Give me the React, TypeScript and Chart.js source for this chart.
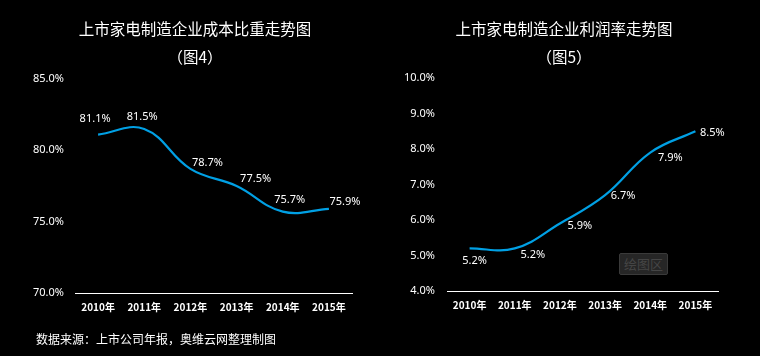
import React, { useEffect, useRef } from "react";
import { Chart, registerables } from "chart.js";

Chart.register(...registerables);

// ---- data ----
const years = ["2010年", "2011年", "2012年", "2013年", "2014年", "2015年"];
const costShare = [81.1, 81.5, 78.7, 77.5, 75.7, 75.9];
const profitRate = [5.2, 5.2, 5.9, 6.7, 7.9, 8.5];
const costAxisRange = [70, 85, 5];
const profitAxisRange = [4, 10, 1];

const leftTitle = "上市家电制造企业成本比重走势图";
const leftSub = "（图4）";
const rightTitle = "上市家电制造企业利润率走势图";
const rightSub = "（图5）";
const sourceNote = "数据来源：上市公司年报，奥维云网整理制图";
const hoverTip = "绘图区";

// ---- label placement (style) ----
const leftLabelOffsets = [[-3, -16], [-2, -12], [17, -6], [19, -7], [7, -12], [16, -7]];
const rightLabelOffsets = [[5, 12], [18, 6], [20, 2], [18, 1], [20, 5], [17, 2]];

const LINE_COLOR = "#00a0e4";
const FONT_UI = "'Noto Sans', 'Noto Sans CJK SC', sans-serif";

const pointLabelPlugin = {
  id: "pointLabels",
  afterDatasetsDraw(chart: any, _args: any, opts: any) {
    const ctx = chart.ctx;
    const meta = chart.getDatasetMeta(0);
    const data = chart.data.datasets[0].data as number[];
    ctx.save();
    ctx.font = `11px ${FONT_UI}`;
    ctx.fillStyle = "#ffffff";
    ctx.textAlign = "center";
    ctx.textBaseline = "middle";
    meta.data.forEach((pt: any, i: number) => {
      const off = (opts.offsets && opts.offsets[i]) || [0, -12];
      ctx.fillText(data[i].toFixed(1) + "%", pt.x + off[0], pt.y + off[1]);
    });
    ctx.restore();
  },
};

function makeConfig(
  values: number[],
  range: number[],
  lay: { padTop: number; padRight: number; yWidth: number; xHeight: number; tickPad: number },
  offsets: number[][]
): any {
  return {
    type: "line",
    data: {
      labels: years,
      datasets: [
        {
          data: values,
          borderColor: LINE_COLOR,
          borderWidth: 2.2,
          pointRadius: 0,
          tension: 0.4,
          fill: false,
        },
      ],
    },
    options: {
      responsive: false,
      animation: false,
      layout: { padding: { top: lay.padTop, right: lay.padRight, left: 0, bottom: 0 } },
      plugins: {
        legend: { display: false },
        title: { display: false },
        tooltip: { enabled: false },
        pointLabels: { offsets },
      },
      scales: {
        x: {
          offset: true,
          grid: { display: false, drawTicks: false, offset: true },
          border: { display: true, color: "#ffffff", width: 1 },
          ticks: {
            color: "#ffffff",
            font: { family: "'Noto Sans CJK SC', sans-serif", size: 10, weight: "bold" },
            padding: 8,
            maxRotation: 0,
            autoSkip: false,
          },
          afterFit(scale: any) {
            scale.height = lay.xHeight;
          },
        },
        y: {
          min: range[0],
          max: range[1],
          grid: { display: false, drawTicks: false },
          border: { display: false },
          ticks: {
            stepSize: range[2],
            color: "#ffffff",
            font: { family: FONT_UI, size: 11 },
            padding: lay.tickPad,
            callback: (v: any) => Number(v).toFixed(1) + "%",
          },
          afterFit(scale: any) {
            scale.width = lay.yWidth;
          },
        },
      },
    },
    plugins: [pointLabelPlugin],
  };
}

function ChartCanvas(props: { config: any; left: number }) {
  const ref = useRef<HTMLCanvasElement | null>(null);
  useEffect(() => {
    if (!ref.current) return;
    const chart = new Chart(ref.current, props.config);
    return () => chart.destroy();
  }, []);
  return (
    <canvas
      ref={ref}
      width={380}
      height={356}
      style={{ position: "absolute", left: props.left, top: 0, width: 380, height: 356 }}
    />
  );
}

export default function App() {
  const leftCfg = makeConfig(
    costShare,
    costAxisRange,
    { padTop: 79, padRight: 28, yWidth: 75, xHeight: 63, tickPad: 11 },
    leftLabelOffsets
  );
  const rightCfg = makeConfig(
    profitRate,
    profitAxisRange,
    { padTop: 78, padRight: 42, yWidth: 67, xHeight: 65, tickPad: 12 },
    rightLabelOffsets
  );
  const titleStyle: any = {
    position: "absolute",
    color: "#ffffff",
    fontFamily: "'Noto Sans CJK SC', sans-serif",
    fontSize: 15.5,
    lineHeight: "20px",
    whiteSpace: "nowrap",
    transform: "translateX(-50%)",
    textSpacingTrim: "space-all",
  };
  return (
    <div
      style={{
        position: "absolute",
        left: 0,
        top: 0,
        width: 760,
        height: 356,
        background: "#000000",
        overflow: "hidden",
      }}
    >
      <ChartCanvas config={leftCfg} left={0} />
      <ChartCanvas config={rightCfg} left={380} />
      <div style={{ ...titleStyle, left: 195, top: 18 }}>{leftTitle}</div>
      <div style={{ ...titleStyle, left: 195, top: 46 }}>{leftSub}</div>
      <div style={{ ...titleStyle, left: 564, top: 18 }}>{rightTitle}</div>
      <div style={{ ...titleStyle, left: 564, top: 46 }}>{rightSub}</div>
      <div
        style={{
          position: "absolute",
          left: 36,
          top: 331,
          color: "#ffffff",
          fontFamily: "'Noto Sans CJK SC', sans-serif",
          fontSize: 12,
          lineHeight: "16px",
          whiteSpace: "nowrap",
          textSpacingTrim: "space-all",
        } as any}
      >
        {sourceNote}
      </div>
      <div
        style={{
          position: "absolute",
          left: 619,
          top: 253,
          width: 47,
          height: 20,
          background: "#262626",
          border: "1px solid #3a3a3a",
          borderRadius: 2,
          color: "#454545",
          fontFamily: "'Noto Sans CJK SC', sans-serif",
          fontSize: 13,
          lineHeight: "20px",
          textAlign: "center",
        }}
      >
        {hoverTip}
      </div>
    </div>
  );
}
